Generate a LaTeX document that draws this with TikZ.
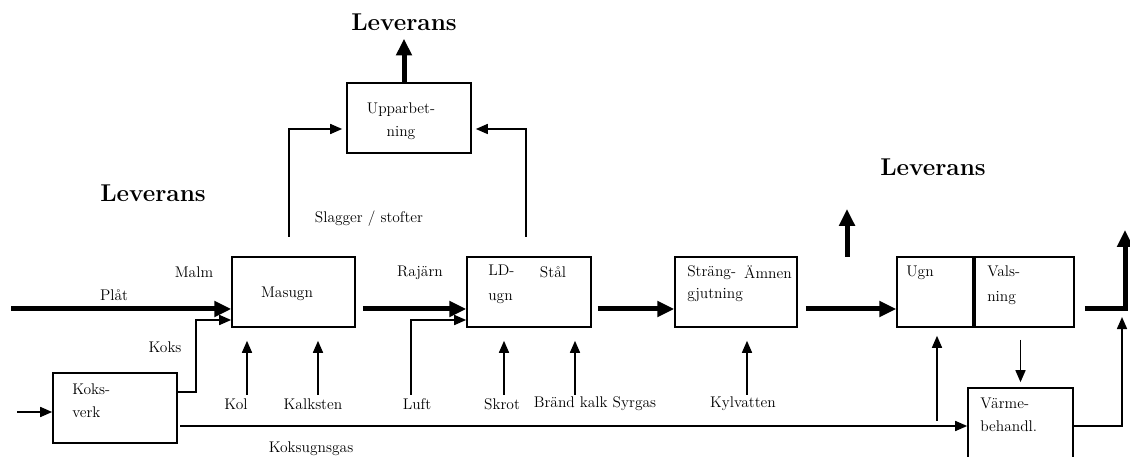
\documentclass[tikz,border=0pt]{standalone}
\usepackage{tikz}
\usetikzlibrary{arrows,arrows.meta}
\tikzstyle{Process}=[draw=black, line width=0.04cm, shape=rectangle, minimum height=1.75cm, inner sep=0pt]
\tikzstyle{Label}=[inner sep=0pt, text=black, font=\fontsize{11}{13.5}\selectfont]
\tikzstyle{Heading}=[inner sep=0pt, text=black, font=\LARGE\bfseries]
\tikzstyle{arrow}=[line width=0.04cm, -{Triangle[length=0.3cm,width=0.25cm]}]
\tikzstyle{flow}=[line width=0.125cm, -{Triangle[length=0.42cm,width=0.38cm]}]
\pgfdeclarelayer{nodelayer}
\pgfdeclarelayer{edgelayer}
\pgfsetlayers{nodelayer,edgelayer,main}

\begin{document}
\begin{tikzpicture}[x=0.025cm, y=-0.025cm]
	\useasboundingbox (0,0) rectangle (1130,457);
	\begin{pgfonlayer}{nodelayer}
		\node [style=Process, minimum width=3.1cm] (koksverk) at (115,408) {};
		\node [style=Process, minimum width=3.075cm] (masugn) at (293.5,292) {};
		\node [style=Process, minimum width=3.1cm] (upparb) at (409,118) {};
		\node [style=Process, minimum width=3.1cm] (ldugn) at (529,292) {};
		\node [style=Process, minimum width=3.05cm] (strang) at (736,292) {};
		\node [style=Process, minimum width=1.9cm] (ugn) at (935,292) {};
		\node [style=Process, minimum width=2.475cm] (valsning) at (1024.5,292) {};
		\node [style=Process, minimum width=2.625cm, minimum height=2.25cm] (varme) at (1020.5,433) {};

		\node [style=Heading] (lev1) at (404,22) {Leverans};
		\node [style=Heading] (lev2) at (153,193) {Leverans};
		\node [style=Heading] (lev3) at (933,167) {Leverans};

		\node [style=Label, anchor=west, align=left] (kokstext) at (72,400.5) {Koks-\\[3pt]verk};
		\node [style=Label] (masugntext) at (287,294) {Masugn};
		\node [style=Label, align=center] (upparbtext) at (401,121) {Upparbet-\\[3pt]ning};
		\node [style=Label, anchor=west, align=left] (ldtext) at (488,284.5) {LD-\\[4pt]ugn};
		\node [style=Label] (stal) at (553,272) {Stål};
		\node [style=Label, anchor=west, align=left] (strangtext) at (687,284) {Sträng-\\[2pt]gjutning};
		\node [style=Label] (amnen) at (768,272) {Ämnen};
		\node [style=Label] (ugntext) at (920,273) {Ugn};
		\node [style=Label, anchor=west, align=left] (valstext) at (987,285.5) {Vals-\\[4pt]ning};
		\node [style=Label, anchor=west, align=left] (varmetext) at (980,415) {Värme-\\[3pt]behandl.};

		\node [style=Label] (slagger) at (369,219) {Slagger / stofter};
		\node [style=Label] (malm) at (194,272) {Malm};
		\node [style=Label] (plat) at (114,295) {Plåt};
		\node [style=Label] (koks) at (165,347) {Koks};
		\node [style=Label] (kol) at (236,404) {Kol};
		\node [style=Label] (kalksten) at (313,404) {Kalksten};
		\node [style=Label] (koksugnsgas) at (311,449) {Koksugnsgas};
		\node [style=Label] (rajarn) at (420,273) {Rajärn};
		\node [style=Label] (luft) at (417,404) {Luft};
		\node [style=Label] (skrot) at (502,404) {Skrot};
		\node [style=Label] (brand) at (595,404) {Bränd kalk Syrgas};
		\node [style=Label] (kylvatten) at (743,404) {Kylvatten};

		\coordinate (main) at (0,309);
		\coordinate (side) at (0,320);
		\coordinate (ret) at (0,129);
		\coordinate (platin) at (11,309);
		\coordinate (koksin) at (17,412);
		\coordinate (koksbend) at (196,392);
		\coordinate (kolin) at (247,395);
		\coordinate (kalkin) at (318,395);
		\coordinate (gasin) at (180,426);
		\coordinate (slagl) at (289,237);
		\coordinate (slagr) at (526,237);
		\coordinate (luftin) at (411,395);
		\coordinate (skrotin) at (504,395);
		\coordinate (kalkgasin) at (575,395);
		\coordinate (vattenin) at (747,395);
		\coordinate (ugnin) at (937,421);
		\coordinate (upa) at (847,257);
		\coordinate (upb) at (847,209);
		\coordinate (endpt) at (1125,309);
		\coordinate (endtop) at (1125,230);
		\coordinate (outpt) at (1122,426);
		\coordinate (outtop) at (1122,317);
	\end{pgfonlayer}
	\begin{pgfonlayer}{edgelayer}
		\draw [style=flow] (platin) to (main -| masugn.west);
		\draw [style=arrow] (koksin) to (koksin -| koksverk.west);
		\draw [style=arrow] (koksbend -| koksverk.east) -- (koksbend) |- (side -| masugn.west);
		\draw [style=arrow, shorten >=0.325cm] (kolin) to (kolin |- masugn.south);
		\draw [style=arrow, shorten >=0.325cm] (kalkin) to (kalkin |- masugn.south);
		\draw [style=arrow] (gasin) to (gasin -| varme.west);
		\draw [style=arrow, shorten >=0.1cm] (slagl) |- (ret -| upparb.west);
		\draw [style=arrow, shorten >=0.1cm] (slagr) |- (ret -| upparb.east);
		\draw [style=flow, shorten >=0.2cm] (upparb.north -| lev1.south) to (lev1.south);
		\draw [style=flow, shorten <=0.175cm] (main -| masugn.east) to (main -| ldugn.west);
		\draw [style=arrow] (luftin) |- (side -| ldugn.west);
		\draw [style=arrow, shorten >=0.325cm] (skrotin) to (skrotin |- ldugn.south);
		\draw [style=arrow, shorten >=0.325cm] (kalkgasin) to (kalkgasin |- ldugn.south);
		\draw [style=flow, shorten <=0.15cm] (main -| ldugn.east) to (main -| strang.west);
		\draw [style=arrow, shorten >=0.325cm] (vattenin) to (vattenin |- strang.south);
		\draw [style=flow, shorten <=0.2cm] (main -| strang.east) to (main -| ugn.west);
		\draw [style=flow] (upa) to (upb);
		\draw [style=arrow, shorten >=0.2cm] (ugnin) to (ugnin |- ugn.south);
		\draw [style=flow, shorten <=0.25cm] (main -| valsning.east) -- (endpt) -- (endtop);
		\draw [style=arrow, shorten <=0.3cm, shorten >=0.125cm] (valsning.south -| varme.north) to (varme.north);
		\draw [style=arrow] (outpt -| varme.east) -- (outpt) -- (outtop);
	\end{pgfonlayer}
\end{tikzpicture}
\end{document}
